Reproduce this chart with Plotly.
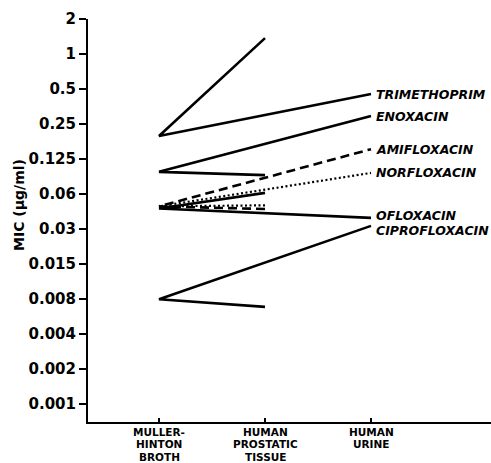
import numpy as np
import plotly.graph_objects as go

# ---- data ----
category_lines = [["MULLER-", "HINTON", "BROTH"],
                  ["HUMAN", "PROSTATIC", "TISSUE"],
                  ["HUMAN", "URINE"]]
drugs = ["TRIMETHOPRIM", "ENOXACIN", "AMIFLOXACIN", "NORFLOXACIN", "OFLOXACIN", "CIPROFLOXACIN"]
mic_broth = [0.197, 0.097, 0.049, 0.049, 0.047, 0.0078]
mic_tissue = [1.37, 0.091, 0.0465, 0.050, 0.064, 0.0067]
mic_urine = [0.453, 0.293, 0.152, 0.095, 0.039, 0.0333]
y_tickvals = [2, 1, 0.5, 0.25, 0.125, 0.0625, 0.03125, 0.015625, 0.0078125,
              0.00390625, 0.001953125, 0.0009765625]
y_ticktext = ["2", "1", "0.5", "0.25", "0.125", "0.06", "0.03", "0.015", "0.008",
              "0.004", "0.002", "0.001"]

# ---- styles ----
dash_styles = ["solid", "solid", "9px,5px", "2px,2.5px", "solid", "solid"]
widths = [2.6, 2.6, 2.6, 2.2, 2.6, 2.6]
label_yshift = [0, 0, 0, 0, 2, -5]
FONT = "DejaVu Sans"

fig = go.Figure()
for i, d in enumerate(drugs):
    fig.add_trace(go.Scatter(
        x=[1, 0, 2],
        y=[mic_tissue[i], mic_broth[i], mic_urine[i]],
        mode="lines",
        line=dict(color="black", width=widths[i], dash=dash_styles[i]),
        showlegend=False, hoverinfo="skip"))

annotations = []
for i, d in enumerate(drugs):
    annotations.append(dict(
        x=2, y=np.log10(mic_urine[i]), xref="x", yref="y",
        text="<b><i>" + d + "</i></b>", showarrow=False, xanchor="left", yanchor="middle",
        xshift=3, yshift=label_yshift[i],
        font=dict(family=FONT, size=12.5, color="black")))

for ci, lines in enumerate(category_lines):
    for li, t in enumerate(lines):
        annotations.append(dict(
            x=ci, y=0, xref="x", yref="paper", text="<b>" + t + "</b>", showarrow=False,
            xanchor="center", yanchor="middle", yshift=-9.5 - 12.5 * li,
            borderpad=0,
            font=dict(family=FONT, size=10.5, color="black")))

annotations.append(dict(
    x=0, y=0.5385, xref="paper", yref="paper", text="<b>MIC (\u00b5g/ml)</b>",
    showarrow=False, textangle=-90, xanchor="center", yanchor="middle",
    xshift=-69, font=dict(family=FONT, size=14, color="black")))

lo = np.log10(2 ** -10.51)
hi = np.log10(2)

fig.update_layout(
    width=491, height=463,
    margin=dict(l=88, r=0, t=19, b=41),
    paper_bgcolor="white", plot_bgcolor="white",
    annotations=annotations,
    xaxis=dict(range=[-0.67, 3.132], tickvals=[0, 1, 2], ticktext=["", "", ""],
               showgrid=False, zeroline=False, showline=True, linecolor="black",
               linewidth=2, ticks="inside", ticklen=4, tickwidth=2, tickcolor="black"),
    yaxis=dict(type="log", range=[lo, hi], tickvals=y_tickvals,
               ticktext=["<b>" + t + "</b>" for t in y_ticktext],
               showgrid=False, zeroline=False, showline=True, linecolor="black",
               linewidth=2, ticks="outside", ticklen=7, tickwidth=2, tickcolor="black",
               tickfont=dict(family=FONT, size=15, color="black")),
)

fig.write_html("out.html")
